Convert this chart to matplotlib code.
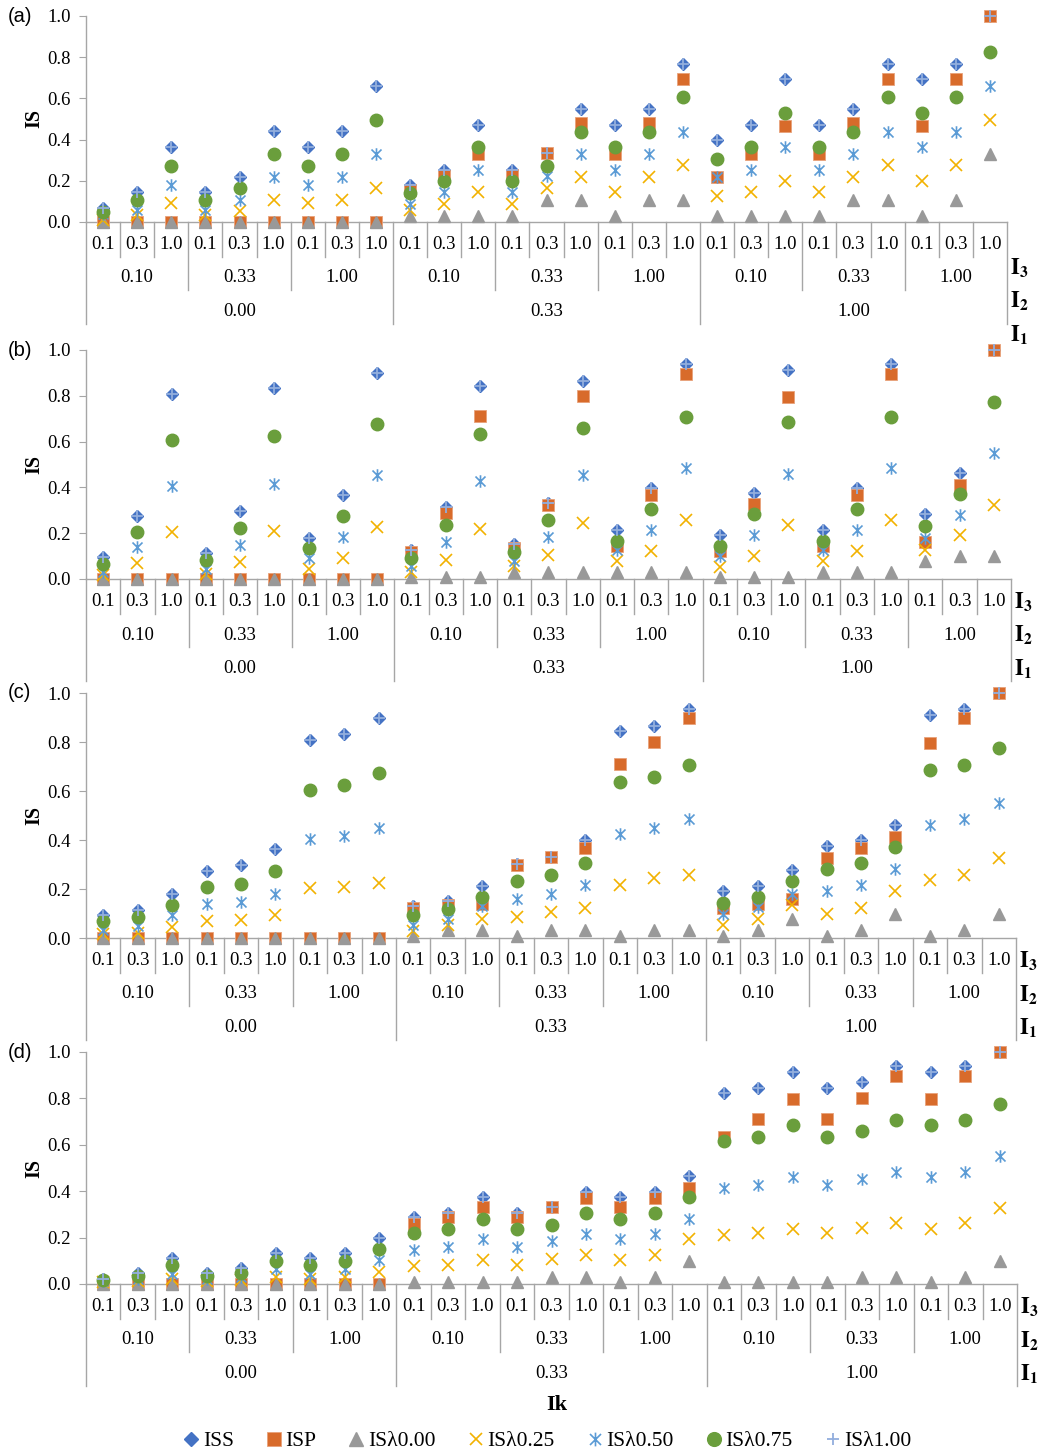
import matplotlib
matplotlib.use("Agg")
import matplotlib.pyplot as plt
from matplotlib.path import Path
from matplotlib.transforms import blended_transform_factory

plt.rcParams['mathtext.fontset'] = 'stix'

# category levels (Ik)
i1_labels = ["0.00", "0.33", "1.00"]
i2_labels = ["0.10", "0.33", "1.00"]
i3_labels = ["0.1", "0.3", "1.0"]

series_names = ["ISS", "ISP", "ISλ0.00", "ISλ0.25", "ISλ0.50", "ISλ0.75", "ISλ1.00"]

# panel (a)
iss_a = [0.068, 0.144, 0.363, 0.144, 0.220, 0.441, 0.363, 0.441, 0.659,
         0.178, 0.254, 0.472, 0.254, 0.334, 0.548, 0.472, 0.548, 0.769,
         0.396, 0.472, 0.693, 0.472, 0.548, 0.769, 0.693, 0.769, 1.000]
isp_a = [0, 0, 0, 0, 0, 0, 0, 0, 0,
         0.157, 0.225, 0.331, 0.230, 0.334, 0.480, 0.330, 0.480, 0.695,
         0.218, 0.330, 0.468, 0.330, 0.480, 0.695, 0.468, 0.695, 1.000]
l000_a = [0, 0, 0, 0, 0, 0, 0, 0, 0,
          0.027, 0.027, 0.027, 0.027, 0.108, 0.108, 0.027, 0.108, 0.108,
          0.027, 0.027, 0.027, 0.027, 0.108, 0.108, 0.027, 0.108, 0.331]
l025_a = [0.010, 0.036, 0.092, 0.036, 0.055, 0.108, 0.092, 0.108, 0.165,
          0.060, 0.089, 0.144, 0.089, 0.165, 0.218, 0.144, 0.218, 0.275,
          0.124, 0.144, 0.197, 0.144, 0.218, 0.275, 0.197, 0.275, 0.496]
l050_a = [0.040, 0.057, 0.181, 0.057, 0.107, 0.220, 0.181, 0.220, 0.330,
          0.089, 0.144, 0.254, 0.144, 0.221, 0.330, 0.254, 0.330, 0.439,
          0.218, 0.254, 0.363, 0.254, 0.330, 0.439, 0.363, 0.439, 0.661]
l075_a = [0.048, 0.107, 0.271, 0.107, 0.163, 0.331, 0.271, 0.331, 0.494,
          0.140, 0.197, 0.363, 0.197, 0.271, 0.439, 0.363, 0.439, 0.606,
          0.305, 0.363, 0.528, 0.363, 0.439, 0.606, 0.528, 0.606, 0.825]
l100_a = [0.068, 0.144, 0.363, 0.144, 0.220, 0.441, 0.363, 0.441, 0.659,
          0.178, 0.254, 0.472, 0.254, 0.334, 0.548, 0.472, 0.548, 0.769,
          0.396, 0.472, 0.693, 0.472, 0.548, 0.769, 0.693, 0.769, 1.000]

# panel (b)
iss_b = [0.094, 0.273, 0.810, 0.113, 0.298, 0.833, 0.180, 0.365, 0.900,
         0.128, 0.314, 0.843, 0.153, 0.330, 0.866, 0.215, 0.397, 0.937,
         0.190, 0.376, 0.913, 0.215, 0.397, 0.937, 0.283, 0.465, 1.000]
isp_b = [0, 0, 0, 0, 0, 0, 0, 0, 0,
         0.120, 0.288, 0.712, 0.135, 0.325, 0.801, 0.142, 0.368, 0.897,
         0.124, 0.329, 0.794, 0.142, 0.368, 0.897, 0.161, 0.411, 1.000]
l000_b = [0, 0, 0, 0, 0, 0, 0, 0, 0,
          0.010, 0.010, 0.010, 0.030, 0.030, 0.030, 0.030, 0.030, 0.030,
          0.007, 0.007, 0.007, 0.030, 0.030, 0.030, 0.077, 0.099, 0.099]
l025_b = [0.016, 0.068, 0.205, 0.022, 0.074, 0.208, 0.045, 0.092, 0.225,
          0.030, 0.084, 0.219, 0.055, 0.106, 0.243, 0.077, 0.124, 0.259,
          0.052, 0.102, 0.234, 0.077, 0.124, 0.259, 0.128, 0.190, 0.324]
l050_b = [0.030, 0.140, 0.407, 0.044, 0.150, 0.417, 0.092, 0.183, 0.452,
          0.058, 0.160, 0.429, 0.077, 0.183, 0.452, 0.128, 0.215, 0.484,
          0.102, 0.193, 0.459, 0.128, 0.215, 0.484, 0.179, 0.280, 0.549]
l075_b = [0.065, 0.206, 0.606, 0.084, 0.224, 0.625, 0.135, 0.273, 0.676,
          0.092, 0.234, 0.635, 0.120, 0.256, 0.658, 0.167, 0.307, 0.709,
          0.145, 0.283, 0.685, 0.167, 0.307, 0.709, 0.230, 0.372, 0.775]
l100_b = [0.094, 0.273, 0.810, 0.113, 0.298, 0.833, 0.180, 0.365, 0.900,
          0.128, 0.314, 0.843, 0.153, 0.330, 0.866, 0.215, 0.397, 0.937,
          0.190, 0.376, 0.913, 0.215, 0.397, 0.937, 0.283, 0.465, 1.000]

# panel (c)
iss_c = [0.093, 0.116, 0.181, 0.275, 0.297, 0.365, 0.810, 0.832, 0.899,
         0.131, 0.150, 0.213, 0.304, 0.331, 0.399, 0.845, 0.865, 0.933,
         0.191, 0.213, 0.279, 0.376, 0.399, 0.463, 0.910, 0.933, 1.000]
isp_c = [0, 0, 0, 0, 0, 0, 0, 0, 0,
         0.123, 0.134, 0.140, 0.297, 0.331, 0.368, 0.710, 0.801, 0.896,
         0.123, 0.140, 0.161, 0.328, 0.368, 0.413, 0.794, 0.896, 1.000]
l000_c = [0, 0, 0, 0, 0, 0, 0, 0, 0,
          0.008, 0.031, 0.031, 0.008, 0.031, 0.031, 0.008, 0.031, 0.031,
          0.008, 0.031, 0.079, 0.008, 0.031, 0.099, 0.008, 0.031, 0.099]
l025_c = [0.016, 0.022, 0.045, 0.068, 0.074, 0.092, 0.205, 0.208, 0.225,
          0.027, 0.052, 0.079, 0.086, 0.106, 0.124, 0.218, 0.243, 0.259,
          0.054, 0.076, 0.134, 0.099, 0.124, 0.191, 0.236, 0.259, 0.327]
l050_c = [0.031, 0.050, 0.093, 0.138, 0.147, 0.181, 0.406, 0.417, 0.450,
          0.054, 0.079, 0.131, 0.158, 0.181, 0.215, 0.426, 0.450, 0.484,
          0.099, 0.127, 0.181, 0.192, 0.215, 0.283, 0.460, 0.484, 0.552]
l075_c = [0.068, 0.086, 0.136, 0.208, 0.222, 0.272, 0.606, 0.624, 0.674,
          0.093, 0.117, 0.168, 0.232, 0.256, 0.307, 0.635, 0.658, 0.708,
          0.144, 0.168, 0.232, 0.283, 0.307, 0.372, 0.685, 0.708, 0.774]
l100_c = [0.093, 0.116, 0.181, 0.275, 0.297, 0.365, 0.810, 0.832, 0.899,
          0.131, 0.150, 0.213, 0.304, 0.331, 0.399, 0.845, 0.865, 0.933,
          0.191, 0.213, 0.279, 0.376, 0.399, 0.463, 0.910, 0.933, 1.000]

# panel (d)
iss_d = [0.023, 0.048, 0.112, 0.048, 0.068, 0.134, 0.112, 0.134, 0.200,
         0.287, 0.307, 0.376, 0.308, 0.330, 0.398, 0.376, 0.398, 0.465,
         0.823, 0.844, 0.912, 0.844, 0.869, 0.938, 0.912, 0.938, 1.000]
isp_d = [0, 0, 0, 0, 0, 0, 0, 0, 0,
         0.260, 0.290, 0.330, 0.290, 0.330, 0.369, 0.330, 0.369, 0.412,
         0.635, 0.710, 0.797, 0.710, 0.801, 0.898, 0.797, 0.898, 1.000]
l000_d = [0, 0, 0, 0, 0, 0, 0, 0, 0,
          0.008, 0.008, 0.008, 0.008, 0.030, 0.030, 0.008, 0.030, 0.099,
          0.008, 0.008, 0.008, 0.008, 0.030, 0.030, 0.008, 0.030, 0.099]
l025_d = [0.008, 0.012, 0.023, 0.012, 0.016, 0.030, 0.023, 0.030, 0.050,
          0.078, 0.084, 0.102, 0.084, 0.107, 0.124, 0.102, 0.124, 0.192,
          0.213, 0.220, 0.235, 0.220, 0.242, 0.261, 0.235, 0.261, 0.326]
l050_d = [0.015, 0.023, 0.045, 0.023, 0.030, 0.063, 0.045, 0.063, 0.102,
          0.148, 0.160, 0.192, 0.160, 0.184, 0.215, 0.192, 0.215, 0.280,
          0.415, 0.427, 0.460, 0.427, 0.451, 0.484, 0.460, 0.484, 0.552]
l075_d = [0.019, 0.035, 0.084, 0.035, 0.049, 0.099, 0.084, 0.099, 0.151,
          0.218, 0.235, 0.282, 0.235, 0.256, 0.307, 0.282, 0.307, 0.373,
          0.618, 0.635, 0.686, 0.635, 0.660, 0.707, 0.686, 0.707, 0.777]
l100_d = [0.023, 0.048, 0.112, 0.048, 0.068, 0.134, 0.112, 0.134, 0.200,
          0.287, 0.307, 0.376, 0.308, 0.330, 0.398, 0.376, 0.398, 0.465,
          0.823, 0.844, 0.912, 0.844, 0.869, 0.938, 0.912, 0.938, 1.000]

panels = [
    ("(a)", [iss_a, isp_a, l000_a, l025_a, l050_a, l075_a, l100_a]),
    ("(b)", [iss_b, isp_b, l000_b, l025_b, l050_b, l075_b, l100_b]),
    ("(c)", [iss_c, isp_c, l000_c, l025_c, l050_c, l075_c, l100_c]),
    ("(d)", [iss_d, isp_d, l000_d, l025_d, l050_d, l075_d, l100_d]),
]

# asterisk marker like the Excel one
ast = Path([(0, -1), (0, 1), (-0.8, -0.8), (0.8, 0.8), (-0.8, 0.8), (0.8, -0.8)],
           [Path.MOVETO, Path.LINETO] * 3)

styles = [
    dict(marker='D', ms=6.6, color='#4472C4', mec='#4472C4'),
    dict(marker='s', ms=8.8, color='#D86B2B', mec='#E8A27A', mew=0.6),
    dict(marker='^', ms=9, color='#999999', mec='#999999'),
    dict(marker='x', ms=8, color='#F2B200', mew=1.2, mfc='none'),
    dict(marker=ast, ms=9, color='#5B9BD5', mew=1.2, mfc='none'),
    dict(marker='o', ms=9, color='#6A9E3C', mec='#6A9E3C'),
    dict(marker='+', ms=8, color='#92AEDD', mew=1.3),
]

W, H = 1055, 1455
serif = 'Liberation Serif'
grey = '#A6A6A6'

# axes boxes in pixels: left, right, top(1.0), bottom(0.0)
boxes = [(86, 1007, 16, 222), (86, 1011, 350, 579), (86, 1016, 693, 938), (86, 1017, 1052, 1284)]
ilabel_shift = [23, 0, 0, 0]

fig = plt.figure(figsize=(W / 100, H / 100), dpi=100)

n = len(i1_labels) * len(i2_labels) * len(i3_labels)
handles = []
for p, (tag, data) in enumerate(panels):
    left, right, top, bottom = boxes[p]
    ax = fig.add_axes([left / W, 1 - bottom / H, (right - left) / W, (bottom - top) / H])
    x = list(range(n))
    for vals, st in zip(data, styles):
        h, = ax.plot(x, vals, linestyle='none', clip_on=False, zorder=3, **st)
        if p == 0:
            handles.append(h)
    ax.set_xlim(-0.5, n - 0.5)
    ax.set_ylim(0, 1.0)
    ax.set_yticks([0, 0.2, 0.4, 0.6, 0.8, 1.0])
    ax.set_yticklabels([f"{v:.1f}" for v in [0, 0.2, 0.4, 0.6, 0.8, 1.0]],
                       family=serif, fontsize=13.5)
    ax.set_xticks([])
    ax.tick_params(axis='y', length=5, color=grey, pad=6)
    for s in ['top', 'right']:
        ax.spines[s].set_visible(False)
    for s in ['left', 'bottom']:
        ax.spines[s].set_color(grey)
        ax.spines[s].set_linewidth(1)

    trans = blended_transform_factory(ax.transData, fig.transFigure)
    fy = lambda off: 1 - (bottom + off) / H

    # separators of the multi-level category axis
    for b in range(n + 1):
        if b % 9 == 0:
            depth = 101.5
        elif b % 3 == 0:
            depth = 68
        else:
            depth = 34.5
        ax.plot([b - 0.5, b - 0.5], [fy(0), fy(depth)], color=grey, lw=1,
                transform=trans, clip_on=False)

    for k in range(n):
        ax.text(k, fy(22.5), i3_labels[k % 3], transform=trans, ha='center',
                va='center', family=serif, fontsize=13.5)
    for g in range(9):
        ax.text(g * 3 + 1, fy(56), i2_labels[g % 3], transform=trans, ha='center',
                va='center', family=serif, fontsize=13.5)
    for g in range(3):
        ax.text(g * 9 + 4, fy(89.5), i1_labels[g], transform=trans, ha='center',
                va='center', family=serif, fontsize=13.5)

    sh = ilabel_shift[p]
    for lab, off in [(r'$\mathbf{I}_\mathbf{3}$', 22.5), (r'$\mathbf{I}_\mathbf{2}$', 56),
                     (r'$\mathbf{I}_\mathbf{1}$', 89.5)]:
        fig.text((right + 3) / W, fy(off + sh), lab, ha='left', va='center', fontsize=16)

    fig.text(8 / W, 1 - top / H, tag, ha='left', va='center', family='Liberation Sans',
             fontsize=14.5)
    fig.text(34 / W, 1 - (top + bottom) / 2 / H, "IS", rotation=90, ha='center',
             va='center', family=serif, fontsize=14.5, fontweight='bold')

fig.text(557 / W, 1 - 1405 / H, "Ik", ha='center', va='center', family=serif,
         fontsize=16, fontweight='bold')

fig.legend(handles, series_names, loc='center', bbox_to_anchor=(546 / W, 1 - 1441 / H),
           ncol=7, frameon=False, prop={'family': serif, 'size': 15.5},
           handletextpad=0.05, columnspacing=1.35, handlelength=1.0, markerscale=1.1)

fig.savefig("out.png", dpi=100)
